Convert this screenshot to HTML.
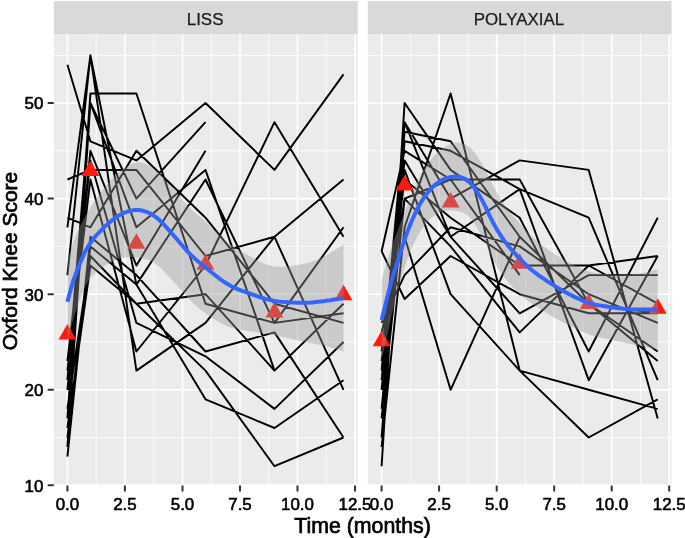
<!DOCTYPE html>
<html><head><meta charset="utf-8"><style>
html,body{margin:0;padding:0;background:#fff;width:685px;height:538px;overflow:hidden}
svg{display:block;font-family:"Liberation Sans",sans-serif}
text{filter:grayscale(1)}
</style></head><body>
<svg width="685" height="538" viewBox="0 0 685 538"><rect width="685" height="538" fill="#fff"/><rect x="53.8" y="1.0" width="303.9" height="33" fill="#d9d9d9"/><text x="205.1" y="25.0" font-size="16.9" fill="#1a1a1a" stroke="#1a1a1a" stroke-width="0.25" text-anchor="middle" font-family="Liberation Sans, sans-serif">LISS</text><rect x="53.8" y="34.0" width="303.9" height="450.6" fill="#ebebeb"/><path d="M53.8 437.5H357.7M53.8 342H357.7M53.8 246.4H357.7M53.8 150.8H357.7M53.8 55.3H357.7M96.2 34.0V484.6M153.7 34.0V484.6M211.2 34.0V484.6M268.7 34.0V484.6M326.3 34.0V484.6" stroke="#fff" stroke-width="0.8" fill="none"/><path d="M53.8 485.3H357.7M53.8 389.8H357.7M53.8 294.2H357.7M53.8 198.6H357.7M53.8 103H357.7M67.4 34.0V484.6M124.9 34.0V484.6M182.5 34.0V484.6M240 34.0V484.6M297.5 34.0V484.6M355 34.0V484.6" stroke="#fff" stroke-width="1.6" fill="none"/><clipPath id="c0"><rect x="53.8" y="34.0" width="303.9" height="450.6"/></clipPath><g clip-path="url(#c0)"><path d="M67.4 64.8L90.4 141.3L136.4 160.4L205.5 103L274.5 169.9L343.5 74.4M67.4 217.7L90.4 227.3L136.4 150.8L205.5 217.7L274.5 303.7L343.5 322.9M67.4 418.4L90.4 93.5L136.4 93.5L205.5 303.7L274.5 322.9L343.5 313.3M67.4 179.5L90.4 169.9L136.4 169.9L205.5 256L274.5 236.8L343.5 179.5M67.4 447.1L90.4 103L136.4 198.6L205.5 122.2M67.4 389.8L90.4 150.8L136.4 265.5L205.5 150.8M67.4 227.3L90.4 55.3L136.4 284.6L205.5 179.5L274.5 322.9L343.5 227.3M67.4 380.2L90.4 103L136.4 227.3L205.5 169.9L274.5 370.6L343.5 303.7M67.4 370.6L90.4 179.5L136.4 351.5L205.5 265.5L274.5 122.2L343.5 236.8M67.4 275.1L90.4 55.3L136.4 370.6L205.5 322.9L274.5 236.8L343.5 389.8M67.4 408.9L90.4 256L136.4 303.7L205.5 294.2L274.5 370.6L343.5 303.7M67.4 456.7L90.4 236.8L136.4 275.1L205.5 351.5L274.5 332.4L343.5 437.5M67.4 361.1L90.4 160.4L136.4 322.9L205.5 356.3L274.5 408.9L343.5 342M67.4 437.5L90.4 246.4L136.4 284.6L205.5 399.3L274.5 428L343.5 380.2M67.4 428L90.4 265.5L136.4 303.7L205.5 370.6L274.5 466.2L343.5 437.5" stroke="#000" stroke-width="1.95" fill="none" stroke-linejoin="round" stroke-linecap="butt"/><path d="M67.4 324L76.3 339.5L58.5 339.5ZM90.4 160.6L99.3 176.1L81.5 176.1ZM136.4 233.2L145.4 248.7L127.5 248.7ZM205.5 254.3L214.4 269.7L196.5 269.7ZM274.5 302L283.4 317.5L265.6 317.5ZM343.5 284.8L352.4 300.3L334.6 300.3Z" fill="#ff1a0d"/><path d="M67.4 261.7L67.9 259.9L68.6 257.5L69.4 254.6L70.4 251.4L71.4 248L72.5 244.5L73.7 241.1L75 237.8L76.3 234.6L77.8 231.3L79.3 228L81 224.6L82.7 221.3L84.4 217.9L86.2 214.6L88.1 211.4L90.1 208.2L92.1 205L94.2 201.8L96.4 198.7L98.6 195.6L100.8 192.6L103 189.7L105.1 187L107.2 184.5L109.4 182L111.5 179.6L113.5 177.3L115.6 175.2L117.7 173.2L119.8 171.4L121.9 169.7L124 168.2L126.1 166.9L128.2 165.6L130.3 164.5L132.4 163.6L134.5 163L136.6 162.5L138.7 162.4L140.8 162.5L142.9 163L145 163.6L147.1 164.5L149.2 165.6L151.3 166.9L153.4 168.3L155.5 169.8L157.6 171.5L159.7 173.5L161.8 175.7L163.9 178L166 180.4L168.1 182.9L170.2 185.3L172.3 187.7L174.4 190.1L176.5 192.6L178.6 195.1L180.8 197.7L182.9 200.2L185 202.7L187 205L189.1 207.2L191.1 209.2L193.1 211L195 212.7L196.9 214.3L198.9 215.9L200.9 217.6L203.1 219.5L205.5 221.6L208 223.9L210.7 226.5L213.6 229.2L216.5 232.1L219.5 234.9L222.6 237.6L225.5 240.2L228.5 242.6L231.3 244.7L234.2 246.7L237.1 248.7L240 250.5L242.9 252.2L245.7 253.8L248.6 255.4L251.5 256.9L254.3 258.4L257.1 259.9L259.8 261.4L262.6 262.8L265.4 264L268.3 265.1L271.3 265.9L274.5 266.5L278 266.8L281.7 266.8L285.6 266.6L289.6 266.2L293.6 265.7L297.4 265.1L301.1 264.5L304.4 263.8L307.4 263.1L310.3 262.2L312.9 261.3L315.5 260.3L317.9 259.3L320.3 258.1L322.7 257L325.1 255.8L327.6 254.4L330.3 252.9L333 251.3L335.6 249.6L338.1 248L340.3 246.6L342.1 245.4L343.5 244.5L343.5 351.5L342.1 351.1L340.3 350.5L338.1 349.8L335.6 349L333 348.2L330.3 347.4L327.6 346.7L325.1 346L322.7 345.4L320.3 344.9L317.9 344.4L315.5 343.9L312.9 343.5L310.3 343L307.4 342.4L304.4 341.8L301.1 341.1L297.4 340.3L293.6 339.4L289.6 338.5L285.6 337.6L281.7 336.8L278 336L274.5 335.3L271.3 334.7L268.3 334.2L265.4 333.7L262.6 333.3L259.8 332.8L257.1 332.4L254.3 332L251.5 331.5L248.6 331L245.7 330.5L242.9 330.1L240 329.7L237.1 329.1L234.2 328.5L231.3 327.7L228.5 326.7L225.5 325.4L222.6 324L219.5 322.3L216.5 320.6L213.6 318.8L210.7 316.9L208 315.1L205.5 313.3L203.1 311.6L200.9 309.9L198.9 308.2L196.9 306.5L195 304.7L193.1 302.9L191.1 301L189.1 299L187 296.8L185 294.6L182.9 292.2L180.8 289.8L178.6 287.3L176.5 284.9L174.4 282.5L172.3 280.3L170.2 278L168.1 275.7L166 273.5L163.9 271.2L161.8 269.1L159.7 267.1L157.6 265.3L155.5 263.8L153.4 262.5L151.3 261.4L149.2 260.5L147.1 259.7L145 259.1L142.9 258.6L140.8 258.2L138.7 257.8L136.6 257.5L134.5 257.2L132.4 257.1L130.3 257.1L128.2 257.2L126.1 257.4L124 257.7L121.9 258.1L119.8 258.6L117.7 259.3L115.6 260L113.5 260.9L111.5 261.9L109.4 263L107.2 264.2L105.1 265.6L103 267.1L100.8 268.6L98.6 270.2L96.4 271.9L94.2 273.9L92.1 276L90.1 278.5L88.1 281.4L86.2 284.7L84.4 288.5L82.7 292.7L81 297.1L79.3 301.6L77.8 306L76.3 310.3L75 314.3L73.7 318.2L72.5 322.2L71.4 326.3L70.4 330.2L69.4 333.8L68.6 337.1L67.9 339.9L67.4 342Z" fill="#999" fill-opacity="0.4"/><path d="M67.4 301.8L67.9 299.9L68.6 297.3L69.4 294.2L70.4 290.8L71.4 287.1L72.5 283.4L73.7 279.6L75 276L76.3 272.4L77.8 268.7L79.3 264.8L81 260.9L82.7 257L84.4 253.2L86.2 249.7L88.1 246.4L90.1 243.4L92.1 240.5L94.2 237.8L96.4 235.3L98.6 232.9L100.8 230.6L103 228.4L105.1 226.3L107.2 224.4L109.4 222.5L111.5 220.7L113.5 219.1L115.6 217.6L117.7 216.2L119.8 215L121.9 213.9L124 212.9L126.1 212.1L128.2 211.4L130.3 210.8L132.4 210.4L134.5 210.1L136.6 210L138.7 210.1L140.8 210.3L142.9 210.8L145 211.4L147.1 212.1L149.2 213L151.3 214.1L153.4 215.4L155.5 216.8L157.6 218.4L159.7 220.3L161.8 222.4L163.9 224.6L166 226.9L168.1 229.3L170.2 231.7L172.3 234L174.4 236.3L176.5 238.7L178.6 241.2L180.8 243.7L182.9 246.2L185 248.6L187 250.9L189.1 253.1L191.1 255.1L193.1 256.9L195 258.7L196.9 260.4L198.9 262.1L200.9 263.8L203.1 265.5L205.5 267.4L208 269.5L210.7 271.7L213.6 274L216.5 276.3L219.5 278.6L222.6 280.8L225.5 282.8L228.5 284.6L231.3 286.2L234.2 287.6L237.1 288.9L240 290.1L242.9 291.2L245.7 292.2L248.6 293.2L251.5 294.2L254.3 295.2L257.1 296.2L259.8 297.1L262.6 298L265.4 298.8L268.3 299.6L271.3 300.3L274.5 300.9L278 301.4L281.7 301.8L285.6 302.1L289.6 302.4L293.6 302.6L297.4 302.7L301.1 302.8L304.4 302.8L307.4 302.7L310.3 302.6L312.9 302.4L315.5 302.1L317.9 301.8L320.3 301.5L322.7 301.2L325.1 300.9L327.6 300.5L330.3 300.2L333 299.7L335.6 299.3L338.1 298.9L340.3 298.6L342.1 298.2L343.5 298" stroke="#3366ff" stroke-width="4" fill="none" stroke-linejoin="round"/></g><text x="67.4" y="509.9" font-size="16.9" fill="#000" stroke="#000" stroke-width="0.6" text-anchor="middle" font-family="Liberation Sans, sans-serif">0.0</text><text x="124.9" y="509.9" font-size="16.9" fill="#000" stroke="#000" stroke-width="0.6" text-anchor="middle" font-family="Liberation Sans, sans-serif">2.5</text><text x="182.5" y="509.9" font-size="16.9" fill="#000" stroke="#000" stroke-width="0.6" text-anchor="middle" font-family="Liberation Sans, sans-serif">5.0</text><text x="240" y="509.9" font-size="16.9" fill="#000" stroke="#000" stroke-width="0.6" text-anchor="middle" font-family="Liberation Sans, sans-serif">7.5</text><text x="297.5" y="509.9" font-size="16.9" fill="#000" stroke="#000" stroke-width="0.6" text-anchor="middle" font-family="Liberation Sans, sans-serif">10.0</text><text x="355" y="509.9" font-size="16.9" fill="#000" stroke="#000" stroke-width="0.6" text-anchor="middle" font-family="Liberation Sans, sans-serif">12.5</text><path d="M67.4 485.40000000000003V491.5M124.9 485.40000000000003V491.5M182.5 485.40000000000003V491.5M240 485.40000000000003V491.5M297.5 485.40000000000003V491.5M355 485.40000000000003V491.5" stroke="#333" stroke-width="2"/><rect x="367.8" y="1.0" width="303.7" height="33" fill="#d9d9d9"/><text x="518.9" y="25.0" font-size="16.9" fill="#1a1a1a" stroke="#1a1a1a" stroke-width="0.25" text-anchor="middle" font-family="Liberation Sans, sans-serif">POLYAXIAL</text><rect x="367.8" y="34.0" width="303.7" height="450.6" fill="#ebebeb"/><path d="M367.8 437.5H671.5M367.8 342H671.5M367.8 246.4H671.5M367.8 150.8H671.5M367.8 55.3H671.5M410.4 34.0V484.6M467.9 34.0V484.6M525.4 34.0V484.6M582.9 34.0V484.6M640.5 34.0V484.6" stroke="#fff" stroke-width="0.8" fill="none"/><path d="M367.8 485.3H671.5M367.8 389.8H671.5M367.8 294.2H671.5M367.8 198.6H671.5M367.8 103H671.5M381.6 34.0V484.6M439.1 34.0V484.6M496.7 34.0V484.6M554.2 34.0V484.6M611.7 34.0V484.6M669.2 34.0V484.6" stroke="#fff" stroke-width="1.6" fill="none"/><clipPath id="c1"><rect x="367.8" y="34.0" width="303.7" height="450.6"/></clipPath><g clip-path="url(#c1)"><path d="M381.6 466.2L404.6 103L450.6 169.9L519.7 217.7L588.7 351.5L657.7 217.7M381.6 370.6L404.6 122.2L450.6 198.6L519.7 160.4L588.7 169.9L657.7 418.4M381.6 389.8L404.6 141.3L450.6 150.8L519.7 189.1L588.7 217.7L657.7 380.2M381.6 437.5L404.6 122.2L450.6 236.8L519.7 189.1L588.7 380.2L657.7 256M381.6 351.5L404.6 179.5L450.6 217.7L519.7 265.5L588.7 265.5L657.7 256M381.6 361.1L404.6 160.4L450.6 236.8L519.7 313.3L588.7 275.1L657.7 275.1M381.6 351.5L404.6 198.6L450.6 246.4L519.7 332.4L588.7 265.5L657.7 303.7M381.6 447.1L404.6 227.3L450.6 93.5L519.7 370.6L588.7 389.8L657.7 408.9M381.6 408.9L404.6 169.9L450.6 294.2L519.7 370.6L588.7 437.5L657.7 399.3M381.6 332.4L404.6 236.8L450.6 389.8L519.7 236.8L588.7 303.7L657.7 351.5M381.6 251.2L404.6 150.8L450.6 179.5L519.7 179.5L588.7 303.7L657.7 361.1M381.6 251.2L404.6 299L450.6 256L519.7 294.2L588.7 313.3L657.7 313.3M381.6 322.9L404.6 275.1L450.6 227.3L519.7 246.4L588.7 294.2L657.7 322.9M381.6 418.4L404.6 198.6L450.6 179.5L519.7 275.1M381.6 380.2L404.6 131.7L450.6 141.3L519.7 236.8L588.7 303.7L657.7 313.3" stroke="#000" stroke-width="1.95" fill="none" stroke-linejoin="round" stroke-linecap="butt"/><path d="M381.6 330.7L390.5 346.2L372.7 346.2ZM404.6 174.9L413.5 190.4L395.7 190.4ZM450.6 192.1L459.6 207.6L441.7 207.6ZM519.7 253.3L528.6 268.8L510.7 268.8ZM588.7 293.4L597.6 308.9L579.8 308.9ZM657.7 298.2L666.6 313.7L648.8 313.7Z" fill="#ff1a0d"/><path d="M381.6 279.9L382.3 277.5L383.2 274.3L384.3 270.6L385.5 266.4L386.8 262L388.1 257.7L389.4 253.5L390.6 249.7L391.7 246.3L392.9 242.9L394.1 239.7L395.4 236.5L396.6 233.3L397.8 230.2L399 227L400.2 223.8L401.4 220.6L402.6 217.4L403.8 214.2L404.9 211L406.1 207.8L407.3 204.6L408.6 201.4L409.9 198.2L411.3 194.9L412.7 191.6L414.2 188.2L415.7 184.9L417.2 181.6L418.8 178.4L420.4 175.3L422.1 172.3L423.8 169.5L425.6 166.7L427.4 164.1L429.3 161.5L431.2 159.1L433.1 156.8L435.1 154.6L437.1 152.7L439.1 150.9L441.2 149.2L443.3 147.7L445.5 146.4L447.6 145.2L449.8 144.2L451.8 143.4L453.9 142.9L455.8 142.6L457.7 142.6L459.6 142.7L461.4 143L463.3 143.6L465.1 144.3L466.8 145.3L468.6 146.5L470.3 147.9L472 149.6L473.7 151.6L475.4 153.7L477 156L478.6 158.4L480.2 160.8L481.7 163.3L483.2 165.8L484.6 168.5L486.1 171.3L487.4 174.2L488.8 177.1L490.2 180L491.6 182.8L493 185.4L494.4 187.9L495.7 190.3L497 192.7L498.4 195L499.8 197.3L501.2 199.6L502.7 201.9L504.2 204.2L505.9 206.5L507.6 208.8L509.4 211.1L511.3 213.4L513.1 215.7L515.1 217.9L517 220.2L519 222.5L520.9 224.7L522.8 226.9L524.7 229.1L526.6 231.3L528.7 233.5L530.8 235.7L533.2 237.9L535.8 240.1L538.6 242.5L541.7 244.9L545 247.3L548.4 249.8L551.9 252.2L555.4 254.5L558.9 256.7L562.2 258.8L565.5 260.7L568.9 262.5L572.2 264.3L575.5 265.9L578.9 267.5L582.2 268.9L585.4 270.2L588.7 271.3L591.9 272.2L595.2 272.9L598.5 273.4L601.7 273.8L604.9 274.2L608 274.4L611.1 274.6L614 274.8L616.8 274.9L619.4 275L622 275L624.5 275L627 274.9L629.5 274.7L632 274.4L634.7 274.1L637.6 273.7L640.8 273.1L644.2 272.4L647.5 271.7L650.7 271L653.5 270.3L655.9 269.7L657.7 269.3L657.7 349.6L655.9 349.2L653.5 348.8L650.7 348.2L647.5 347.5L644.2 346.8L640.8 346.1L637.6 345.5L634.7 344.8L632 344.3L629.5 343.7L627 343.2L624.5 342.7L622 342.1L619.4 341.6L616.8 341L614 340.4L611.1 339.7L608 339.1L604.9 338.5L601.7 337.8L598.5 337.1L595.2 336.3L591.9 335.4L588.7 334.3L585.4 333.1L582.2 331.8L578.9 330.3L575.5 328.8L572.2 327.1L568.9 325.5L565.5 323.7L562.2 322L558.9 320.1L555.4 318.2L551.9 316.2L548.4 314.1L545 312L541.7 310L538.6 308L535.8 306.2L533.2 304.5L530.8 302.8L528.7 301.3L526.6 299.8L524.7 298.2L522.8 296.7L520.9 295L519 293.3L517 291.4L515.1 289.5L513.1 287.6L511.3 285.5L509.4 283.5L507.6 281.4L505.9 279.3L504.2 277.2L502.7 275.1L501.2 273L499.8 271L498.4 268.9L497 266.7L495.7 264.5L494.4 262.1L493 259.6L491.6 256.9L490.2 254L488.8 251L487.4 247.9L486.1 244.8L484.6 241.7L483.2 238.7L481.7 235.9L480.2 233.2L478.6 230.4L477 227.7L475.4 225L473.7 222.5L472 220.2L470.3 218.1L468.6 216.4L466.8 214.9L465.1 213.7L463.3 212.7L461.4 211.9L459.6 211.3L457.7 210.9L455.8 210.6L453.9 210.4L451.8 210.3L449.8 210.3L447.6 210.5L445.5 210.9L443.3 211.4L441.2 212L439.1 212.9L437.1 214L435.1 215.2L433.1 216.7L431.2 218.3L429.3 220.1L427.4 222L425.6 224.1L423.8 226.4L422.1 228.7L420.4 231.2L418.8 233.9L417.2 236.8L415.7 239.7L414.2 242.8L412.7 246L411.3 249.3L409.9 252.6L408.6 256L407.3 259.4L406.1 263L404.9 266.7L403.8 270.4L402.6 274.3L401.4 278.3L400.2 282.4L399 286.7L397.8 291.1L396.6 295.6L395.4 300.3L394.1 305L392.9 309.9L391.7 314.7L390.6 319.6L389.4 324.7L388.1 330.4L386.8 336.3L385.5 342.2L384.3 347.7L383.2 352.8L382.3 357L381.6 360.1Z" fill="#999" fill-opacity="0.4"/><path d="M381.6 320L382.3 317.2L383.2 313.6L384.3 309.2L385.5 304.3L386.8 299.2L388.1 294L389.4 289.1L390.6 284.6L391.7 280.5L392.9 276.4L394.1 272.4L395.4 268.4L396.6 264.5L397.8 260.6L399 256.8L400.2 253.1L401.4 249.4L402.6 245.8L403.8 242.3L404.9 238.8L406.1 235.4L407.3 232L408.6 228.7L409.9 225.4L411.3 222.1L412.7 218.8L414.2 215.5L415.7 212.3L417.2 209.2L418.8 206.1L420.4 203.3L422.1 200.5L423.8 197.9L425.6 195.4L427.4 193.1L429.3 190.8L431.2 188.7L433.1 186.7L435.1 184.9L437.1 183.3L439.1 181.9L441.2 180.6L443.3 179.5L445.5 178.6L447.6 177.8L449.8 177.3L451.8 176.9L453.9 176.6L455.8 176.6L457.7 176.7L459.6 177L461.4 177.5L463.3 178.1L465.1 179L466.8 180.1L468.6 181.4L470.3 183L472 184.9L473.7 187L475.4 189.4L477 191.8L478.6 194.4L480.2 197L481.7 199.6L483.2 202.2L484.6 205.1L486.1 208L487.4 211L488.8 214.1L490.2 217L491.6 219.8L493 222.5L494.4 225L495.7 227.4L497 229.7L498.4 232L499.8 234.1L501.2 236.3L502.7 238.5L504.2 240.7L505.9 242.9L507.6 245.1L509.4 247.3L511.3 249.5L513.1 251.6L515.1 253.7L517 255.8L519 257.9L520.9 259.9L522.8 261.8L524.7 263.7L526.6 265.5L528.7 267.4L530.8 269.3L533.2 271.2L535.8 273.2L538.6 275.3L541.7 277.4L545 279.7L548.4 281.9L551.9 284.2L555.4 286.4L558.9 288.4L562.2 290.4L565.5 292.2L568.9 294L572.2 295.7L575.5 297.4L578.9 298.9L582.2 300.3L585.4 301.6L588.7 302.8L591.9 303.8L595.2 304.6L598.5 305.3L601.7 305.8L604.9 306.3L608 306.8L611.1 307.2L614 307.6L616.8 308L619.4 308.3L622 308.6L624.5 308.8L627 309L629.5 309.2L632 309.4L634.7 309.5L637.6 309.6L640.8 309.6L644.2 309.6L647.5 309.6L650.7 309.6L653.5 309.5L655.9 309.5L657.7 309.5" stroke="#3366ff" stroke-width="4" fill="none" stroke-linejoin="round"/></g><text x="381.6" y="509.9" font-size="16.9" fill="#000" stroke="#000" stroke-width="0.6" text-anchor="middle" font-family="Liberation Sans, sans-serif">0.0</text><text x="439.1" y="509.9" font-size="16.9" fill="#000" stroke="#000" stroke-width="0.6" text-anchor="middle" font-family="Liberation Sans, sans-serif">2.5</text><text x="496.7" y="509.9" font-size="16.9" fill="#000" stroke="#000" stroke-width="0.6" text-anchor="middle" font-family="Liberation Sans, sans-serif">5.0</text><text x="554.2" y="509.9" font-size="16.9" fill="#000" stroke="#000" stroke-width="0.6" text-anchor="middle" font-family="Liberation Sans, sans-serif">7.5</text><text x="611.7" y="509.9" font-size="16.9" fill="#000" stroke="#000" stroke-width="0.6" text-anchor="middle" font-family="Liberation Sans, sans-serif">10.0</text><text x="669.2" y="509.9" font-size="16.9" fill="#000" stroke="#000" stroke-width="0.6" text-anchor="middle" font-family="Liberation Sans, sans-serif">12.5</text><path d="M381.6 485.40000000000003V491.5M439.1 485.40000000000003V491.5M496.7 485.40000000000003V491.5M554.2 485.40000000000003V491.5M611.7 485.40000000000003V491.5M669.2 485.40000000000003V491.5" stroke="#333" stroke-width="2"/><text x="43.4" y="491.7" font-size="16.9" fill="#000" stroke="#000" stroke-width="0.6" text-anchor="end" font-family="Liberation Sans, sans-serif">10</text><text x="43.4" y="396.2" font-size="16.9" fill="#000" stroke="#000" stroke-width="0.6" text-anchor="end" font-family="Liberation Sans, sans-serif">20</text><text x="43.4" y="300.6" font-size="16.9" fill="#000" stroke="#000" stroke-width="0.6" text-anchor="end" font-family="Liberation Sans, sans-serif">30</text><text x="43.4" y="205" font-size="16.9" fill="#000" stroke="#000" stroke-width="0.6" text-anchor="end" font-family="Liberation Sans, sans-serif">40</text><text x="43.4" y="109.4" font-size="16.9" fill="#000" stroke="#000" stroke-width="0.6" text-anchor="end" font-family="Liberation Sans, sans-serif">50</text><path d="M47.7 485.3H53.8M47.7 389.8H53.8M47.7 294.2H53.8M47.7 198.6H53.8M47.7 103H53.8" stroke="#333" stroke-width="2"/><text x="362.5" y="532.6" font-size="21.3" fill="#000" stroke="#000" stroke-width="0.7" text-anchor="middle" font-family="Liberation Sans, sans-serif">Time (months)</text><text transform="translate(17.3 261) rotate(-90)" x="0" y="0" font-size="21.0" fill="#000" stroke="#000" stroke-width="0.7" text-anchor="middle" font-family="Liberation Sans, sans-serif">Oxford Knee Score</text></svg>
</body></html>
